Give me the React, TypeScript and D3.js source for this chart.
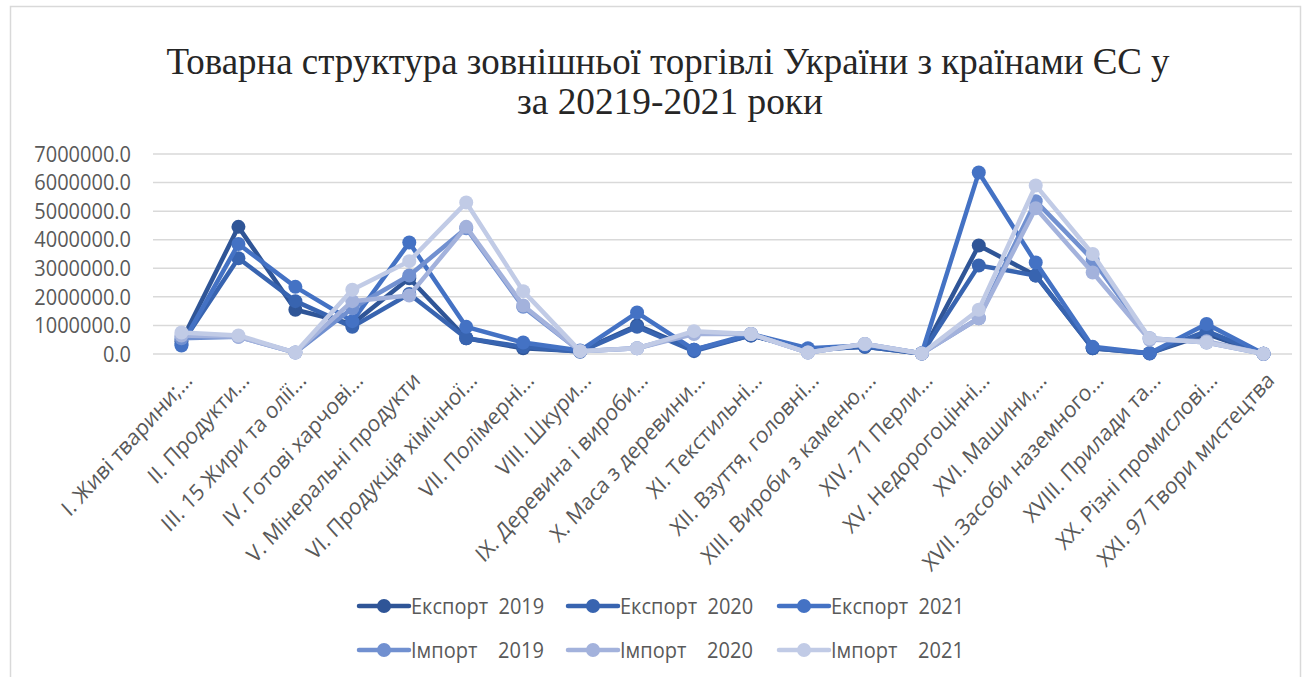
import * as d3 from "d3";
import React, { useEffect, useRef } from "react";

const categories = [
    "I. Живі тварини;...",
    "II. Продукти...",
    "III. 15 Жири та олії...",
    "IV. Готові харчові...",
    "V. Мінеральні продукти",
    "VI. Продукція хімічної...",
    "VII. Полімерні...",
    "VIII. Шкури...",
    "IX. Деревина і вироби...",
    "X. Маса з деревини...",
    "XI. Текстильні...",
    "XII. Взуття, головні...",
    "XIII. Вироби з каменю,...",
    "XIV. 71 Перли...",
    "XV. Недорогоцінні...",
    "XVI. Машини,...",
    "XVII. Засоби наземного...",
    "XVIII. Прилади та...",
    "XX. Різні промислові...",
    "XXI. 97 Твори мистецтва",
];

const export2019 = [450000, 4450000, 1550000, 1050000, 2650000, 550000, 200000, 100000, 1000000, 150000, 650000, 150000, 250000, 20000, 3800000, 2750000, 200000, 30000, 700000, 5000];
const export2020 = [350000, 3350000, 1850000, 950000, 2100000, 550000, 250000, 80000, 950000, 100000, 650000, 150000, 250000, 20000, 3100000, 2750000, 200000, 20000, 800000, 5000];
const export2021 = [300000, 3850000, 2350000, 1150000, 3900000, 950000, 400000, 120000, 1450000, 150000, 700000, 200000, 300000, 30000, 6350000, 3200000, 250000, 30000, 1050000, 10000];
const import2019 = [550000, 600000, 50000, 1600000, 2750000, 4400000, 1650000, 100000, 200000, 750000, 700000, 50000, 350000, 20000, 1250000, 5350000, 3300000, 550000, 400000, 10000];
const import2020 = [650000, 600000, 50000, 1850000, 2050000, 4450000, 1700000, 100000, 200000, 700000, 700000, 50000, 350000, 20000, 1250000, 5100000, 2850000, 500000, 450000, 10000];
const import2021 = [750000, 650000, 50000, 2250000, 3250000, 5300000, 2200000, 100000, 200000, 800000, 700000, 50000, 350000, 20000, 1550000, 5900000, 3500000, 550000, 400000, 10000];

const seriesNames = [
    "Експорт  2019",
    "Експорт  2020",
    "Експорт  2021",
    "Імпорт    2019",
    "Імпорт    2020",
    "Імпорт    2021",
];
const seriesValues = [export2019, export2020, export2021, import2019, import2020, import2021];
const colors = ["#2f5597", "#3864b0", "#4472c4", "#7190d0", "#a3b2dc", "#c1cbe6"];

const yTicks = [0, 1000000, 2000000, 3000000, 4000000, 5000000, 6000000, 7000000];

const W = 1311;
const H = 677;
const FONT = "'Open Sans', sans-serif";

const App: React.FC = () => {
    const svgRef = useRef<SVGSVGElement>(null);

    useEffect(() => {
        if (!svgRef.current) return;
        const svg = d3.select(svgRef.current);
        svg.selectAll("*").remove();

        // chart border
        svg.append("rect")
            .attr("x", 10.5)
            .attr("y", 6.5)
            .attr("width", 1290)
            .attr("height", 690)
            .attr("fill", "#fff")
            .attr("stroke", "#d9d9d9")
            .attr("stroke-width", 1.5);

        // title (source picture is slightly stretched vertically)
        const title = svg.append("g").attr("font-family", "'Liberation Serif', serif").attr("fill", "#262626");
        title.append("text")
            .attr("x", 668).attr("y", 74)
            .attr("text-anchor", "middle")
            .attr("font-size", 37)
            .attr("textLength", 1003)
            .attr("lengthAdjust", "spacingAndGlyphs")
            .text("Товарна структура зовнішньої торгівлі України з країнами ЄС у");
        title.append("text")
            .attr("x", 670).attr("y", 114)
            .attr("text-anchor", "middle")
            .attr("font-size", 37)
            .attr("textLength", 306)
            .attr("lengthAdjust", "spacingAndGlyphs")
            .text("за 20219-2021 роки");

        const x = d3.scaleBand<string>().domain(categories).range([153, 1292]).padding(0);
        const cx = (c: string) => (x(c) as number) + x.bandwidth() / 2;
        const y = d3.scaleLinear().domain([0, 7000000]).range([354, 154]);

        // gridlines
        svg.append("g")
            .selectAll("line")
            .data(yTicks)
            .join("line")
            .attr("x1", 153)
            .attr("x2", 1292)
            .attr("y1", (d) => y(d))
            .attr("y2", (d) => y(d))
            .attr("stroke", "#d9d9d9")
            .attr("stroke-width", 1.5);

        // y axis labels
        const yAxis = svg.append("g")
            .attr("transform", "translate(131,0)")
            .call(d3.axisLeft(y).tickValues(yTicks).tickSize(0).tickPadding(0).tickFormat((d) => (d as number).toFixed(1)));
        yAxis.select(".domain").remove();
        yAxis.selectAll(".tick text")
            .attr("font-family", FONT)
            .attr("font-size", 20)
            .attr("fill", "#595959")
            .attr("transform", "scale(1,1.12)")
            .attr("y", 0)
            .attr("dy", "0.32em");

        // x axis labels
        svg.append("g")
            .selectAll("text")
            .data(categories)
            .join("text")
            .attr("transform", (d) => `translate(${cx(d) + 7},${376}) scale(1,1.1) rotate(-45)`)
            .attr("text-anchor", "end")
            .attr("dy", "0.35em")
            .attr("font-family", FONT)
            .attr("font-size", 20.5)
            .attr("fill", "#595959")
            .text((d) => d);

        // series
        const line = d3.line<number>()
            .x((_, i) => cx(categories[i]))
            .y((d) => y(d));

        seriesValues.forEach((vals, si) => {
            const g = svg.append("g");
            g.append("path")
                .datum(vals)
                .attr("fill", "none")
                .attr("stroke", colors[si])
                .attr("stroke-width", 4.5)
                .attr("stroke-linejoin", "round")
                .attr("d", line);
            g.selectAll("circle")
                .data(vals)
                .join("circle")
                .attr("cx", (_, i) => cx(categories[i]))
                .attr("cy", (d) => y(d))
                .attr("r", 7)
                .attr("fill", colors[si]);
        });

        // legend
        const legendX = [359, 568, 779];
        const legendY = [606, 650];
        seriesNames.forEach((name, si) => {
            const lx = legendX[si % 3];
            const ly = legendY[Math.floor(si / 3)];
            const g = svg.append("g");
            g.append("line")
                .attr("x1", lx).attr("x2", lx + 50)
                .attr("y1", ly).attr("y2", ly)
                .attr("stroke", colors[si])
                .attr("stroke-width", 4.5)
                .attr("stroke-linecap", "round");
            g.append("circle")
                .attr("cx", lx + 25).attr("cy", ly).attr("r", 7)
                .attr("fill", colors[si]);
            g.append("text")
                .attr("transform", `translate(${lx + 52},${ly}) scale(1,1.1)`)
                .attr("dy", "0.35em")
                .attr("font-family", FONT)
                .attr("font-size", 20)
                .attr("fill", "#595959")
                .style("white-space", "pre")
                .text(name);
        });
    }, []);

    return (
        <div style={{ position: "absolute", left: 0, top: 0 }}>
            <svg ref={svgRef} width={W} height={H} style={{ display: "block" }} />
        </div>
    );
};

export default App;
